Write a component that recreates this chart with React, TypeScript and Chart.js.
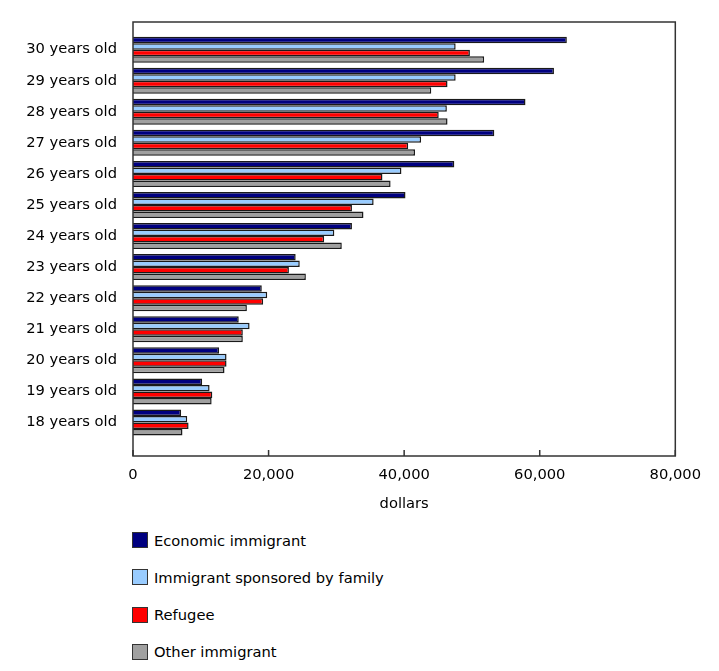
import React, { useEffect, useRef } from 'react';
import { Chart, registerables, ChartConfiguration, Plugin } from 'chart.js';

Chart.register(...registerables);

// age groups, top to bottom
const ageLabels: string[] = [
  '30 years old',
  '29 years old',
  '28 years old',
  '27 years old',
  '26 years old',
  '25 years old',
  '24 years old',
  '23 years old',
  '22 years old',
  '21 years old',
  '20 years old',
  '19 years old',
  '18 years old',
];

// median earnings in dollars, same order as ageLabels
const economic: number[] = [64000, 62100, 57900, 53300, 47400, 40200, 32300, 24000, 19000, 15600, 12700, 10200, 7100];
const sponsored: number[] = [47600, 47600, 46300, 42500, 39600, 35500, 29700, 24600, 19800, 17200, 13800, 11300, 8000];
const refugee: number[] = [49700, 46400, 45100, 40600, 36800, 32300, 28200, 23000, 19200, 16200, 13800, 11700, 8200];
const other: number[] = [51800, 44000, 46400, 41600, 38000, 34000, 30800, 25500, 16800, 16200, 13500, 11600, 7300];

const seriesNames: string[] = ['Economic immigrant', 'Immigrant sponsored by family', 'Refugee', 'Other immigrant'];
const seriesValues: number[][] = [economic, sponsored, refugee, other];
const seriesColors: string[] = ['#000080', '#99ccff', '#ff0000', '#a0a0a0'];

const xTicks: number[] = [0, 20000, 40000, 60000, 80000];

const FONT = { family: '"DejaVu Sans", Verdana, sans-serif', size: 14.7 };

// box round the plot area, with short tick marks pointing inward
const framePlugin: Plugin<'bar'> = {
  id: 'frame',
  afterDatasetsDraw(chart) {
    const { ctx, chartArea, scales } = chart;
    const { left, top, right, bottom } = chartArea;
    ctx.save();
    ctx.strokeStyle = '#333';
    ctx.lineWidth = 1.5;
    ctx.strokeRect(left, top, right - left, bottom - top);
    ctx.beginPath();
    xTicks.forEach((v) => {
      const px = scales.x.getPixelForValue(v);
      ctx.moveTo(px, bottom);
      ctx.lineTo(px, bottom - 6);
    });
    ctx.stroke();
    ctx.restore();
  },
};

export default function App() {
  const chartRef = useRef<HTMLCanvasElement | null>(null);

  useEffect(() => {
    if (!chartRef.current) return;
    const ctx = chartRef.current.getContext('2d');
    if (!ctx) return;

    const config: ChartConfiguration<'bar', { x: number; y: number }[], string> = {
      type: 'bar',
      data: {
        datasets: seriesNames.map((name, i) => ({
          label: name,
          data: seriesValues[i].map((v, j) => ({ x: v, y: j })),
          backgroundColor: seriesColors[i],
          borderColor: '#1a1a1a',
          borderWidth: 1.5,
          categoryPercentage: 0.837,
          barPercentage: 1,
        })),
      },
      options: {
        indexAxis: 'y',
        responsive: true,
        maintainAspectRatio: false,
        animation: false,
        layout: { padding: { top: 14, right: 31, left: 0, bottom: 0 } },
        plugins: {
          legend: { display: false },
          tooltip: { enabled: true },
        },
        scales: {
          y: {
            type: 'linear',
            reverse: true,
            offset: false,
            min: -0.89,
            max: 13.08,
            afterBuildTicks: (s: any) => {
              s.ticks = ageLabels.map((_, i) => ({ value: i }));
            },
            afterFit: (s: any) => {
              s.width = 125;
              s.paddingTop = 0;
              s.paddingBottom = 0;
            },
            ticks: {
              autoSkip: false,
              padding: 16,
              color: '#000',
              font: FONT,
              callback: (v: any) => ageLabels[Number(v)] ?? '',
            },
            grid: { display: false, drawTicks: false },
            border: { display: false },
          },
          x: {
            type: 'linear',
            min: 0,
            max: 80000,
            afterBuildTicks: (s: any) => {
              s.ticks = xTicks.map((v) => ({ value: v }));
            },
            afterFit: (s: any) => {
              s.height = 62;
            },
            ticks: {
              padding: 10,
              color: '#000',
              font: FONT,
              maxRotation: 0,
              callback: (v: any) => Number(v).toLocaleString('en-US'),
            },
            grid: { display: false, drawTicks: false },
            border: { display: false },
            title: {
              display: true,
              text: 'dollars',
              color: '#000',
              font: FONT,
              padding: { top: 0, bottom: 5 },
            },
          },
        },
      },
      plugins: [framePlugin],
    };

    const chartInstance = new Chart(ctx, config as any);
    return () => {
      chartInstance.destroy();
    };
  }, []);

  return (
    <div style={{ position: 'relative', width: 703, height: 655, overflow: 'hidden' }}>
      <div style={{ position: 'relative', width: 703, height: 510 }}>
        <canvas ref={chartRef} />
      </div>
      {seriesNames.map((name, i) => (
        <div
          key={name}
          style={{
            position: 'absolute',
            left: 124,
            top: 522 + i * 37.3,
            height: 20,
            display: 'flex',
            alignItems: 'center',
            fontFamily: FONT.family,
            fontSize: FONT.size,
            color: '#000',
            whiteSpace: 'nowrap',
          }}
        >
          <span
            style={{
              display: 'inline-block',
              width: 16,
              height: 16,
              boxSizing: 'border-box',
              background: seriesColors[i],
              border: '1.5px solid #333',
              marginRight: 6,
            }}
          />
          {name}
        </div>
      ))}
    </div>
  );
}
